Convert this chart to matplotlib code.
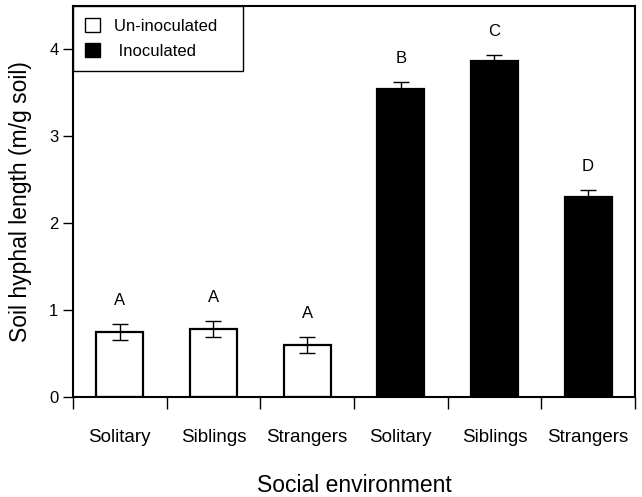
import matplotlib
matplotlib.use('Agg')
import matplotlib.pyplot as plt
from matplotlib.patches import Patch
import numpy as np

plt.rcParams['font.family'] = ['Liberation Sans', 'DejaVu Sans']

# data
groups = ['Solitary', 'Siblings', 'Strangers', 'Solitary', 'Siblings', 'Strangers']
means = [0.75, 0.78, 0.60, 3.55, 3.87, 2.30]
sems = [0.09, 0.09, 0.095, 0.075, 0.07, 0.08]
letters = ['A', 'A', 'A', 'B', 'C', 'D']
treatment = ['Un-inoculated'] * 3 + ['Inoculated'] * 3
colors = {'Un-inoculated': 'white', 'Inoculated': 'black'}

fig = plt.figure(figsize=(6.42, 4.97), dpi=100)
ax = fig.add_axes([0.1137, 0.2012, 0.989 - 0.1137, 0.988 - 0.2012])

x = np.arange(len(groups)) + 0.5
ax.bar(x, means, width=0.5, color=[colors[t] for t in treatment],
       edgecolor='black', linewidth=1.6, zorder=2)
ax.errorbar(x, means, yerr=sems, fmt='none', ecolor='black',
            elinewidth=1, capsize=6, capthick=1, zorder=3)

# significance letters
for xi, m, s, l in zip(x, means, sems, letters):
    ax.text(xi, m + s + 0.27, l, ha='center', va='center', fontsize=12)

ax.set_xlim(0, 6)
ax.set_ylim(0, 4.5)
ax.set_yticks([0, 1, 2, 3, 4])
ax.tick_params(axis='y', direction='out', length=7.5, width=1, labelsize=12, pad=3)

# category edges as ticks, names centred between them
ax.set_xticks(np.arange(0, 7))
ax.set_xticklabels([])
ax.set_xticks(x, minor=True)
ax.set_xticklabels(groups, minor=True, fontsize=13.5)
ax.tick_params(axis='x', which='major', direction='out', length=8.5, width=1)
ax.tick_params(axis='x', which='minor', length=0, pad=23)

for sp in ax.spines.values():
    sp.set_linewidth(1.5)

ax.set_xlabel('Social environment', fontsize=16.5, labelpad=20)
ax.set_ylabel('Soil hyphal length (m/g soil)', fontsize=16.5, labelpad=12)

handles = [Patch(facecolor='white', edgecolor='black', linewidth=1),
           Patch(facecolor='black', edgecolor='black', linewidth=1)]
leg = ax.legend(handles, ['Un-inoculated   ', ' Inoculated'], loc='upper left',
                borderaxespad=0, fontsize=12, fancybox=False, framealpha=1,
                edgecolor='black', handlelength=0.9, handleheight=0.9,
                handletextpad=0.8, borderpad=0.75, labelspacing=0.55)
leg.get_frame().set_linewidth(1)

plt.savefig('out.png', dpi=100)
